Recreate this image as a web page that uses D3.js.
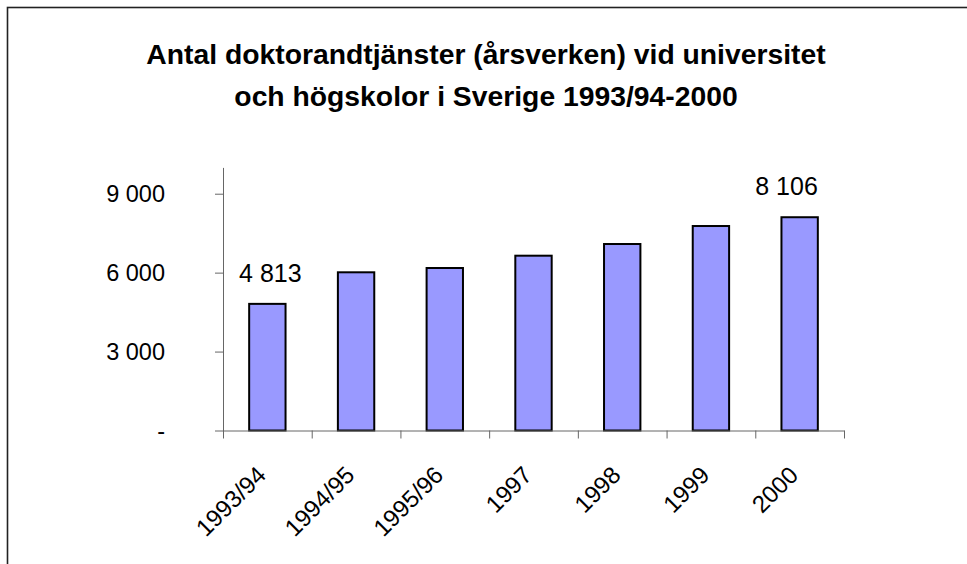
<!DOCTYPE html>
<html lang="sv">
<head>
  <meta charset="UTF-8">
  <script src="https://d3js.org/d3.v7.min.js"></script>
  <style>
    body { margin: 0; background: #fff; }
    text { font-family: Arial, "Liberation Sans", sans-serif; }
  </style>
</head>
<body>
  <script>
    // data
    var years = ['1993/94', '1994/95', '1995/96', '1997', '1998', '1999', '2000'];
    var values = [4813, 6013, 6176, 6644, 7088, 7772, 8106];
    var yTicks = [0, 3000, 6000, 9000];
    var labelled = ['1993/94', '2000'];

    var W = 967, H = 564;
    var plotLeft = 223, plotRight = 844, plotBase = 430.5, plotTop = 167.4;

    var svg = d3.select('body')
      .append('svg')
      .attr('width', W)
      .attr('height', H);

    // chart frame (runs off the right and bottom)
    svg.append('rect')
      .attr('x', 7.5).attr('y', 7.5)
      .attr('width', W + 20).attr('height', H + 20)
      .attr('fill', 'none')
      .attr('stroke', '#222')
      .attr('stroke-width', 1.6);

    // title
    var title = svg.append('text')
      .attr('text-anchor', 'middle')
      .attr('font-weight', 'bold')
      .attr('font-size', 28.3)
      .attr('fill', '#000');
    title.append('tspan').attr('x', 486).attr('y', 64).text('Antal doktorandtjänster (årsverken) vid universitet');
    title.append('tspan').attr('x', 486).attr('y', 106).text('och högskolor i Sverige 1993/94-2000');

    var x = d3.scaleBand()
      .domain(years)
      .range([plotLeft, plotRight])
      .padding(0);

    var y = d3.scaleLinear()
      .domain([0, 10000])
      .range([plotBase, plotTop]);

    var fmt = function(v) {
      if (v === 0) return '-';
      return d3.format(',')(v).replace(/,/g, ' ');
    };

    // bars
    var bw = x.bandwidth() * 0.41;
    svg.append('g')
      .selectAll('rect')
      .data(values)
      .enter().append('rect')
        .attr('x', function(d, i) { return x(years[i]) + (x.bandwidth() - bw) / 2; })
        .attr('y', function(d) { return y(d); })
        .attr('width', bw)
        .attr('height', function(d) { return y(0) - y(d); })
        .attr('fill', '#9999ff')
        .attr('stroke', '#000')
        .attr('stroke-width', 2);

    // y axis
    var yAxis = svg.append('g')
      .attr('transform', 'translate(' + plotLeft + ',0)')
      .call(d3.axisLeft(y)
        .tickValues(yTicks)
        .tickFormat(fmt)
        .tickSize(8)
        .tickSizeOuter(0)
        .tickPadding(50));
    yAxis.selectAll('text')
      .attr('font-size', 23.5)
      .attr('fill', '#000')
      .attr('font-family', 'Arial, "Liberation Sans", sans-serif');
    yAxis.selectAll('path, line').attr('stroke', '#666');

    // x axis with ticks at band edges
    var xe = d3.scaleLinear().domain([0, years.length]).range([plotLeft, plotRight]);
    var xAxis = svg.append('g')
      .attr('transform', 'translate(0,' + plotBase + ')')
      .call(d3.axisBottom(xe)
        .tickValues(d3.range(years.length + 1))
        .tickFormat('')
        .tickSize(8)
        .tickSizeOuter(0));
    xAxis.selectAll('path, line').attr('stroke', '#666');

    // rotated category labels
    svg.append('g')
      .selectAll('text')
      .data(years)
      .enter().append('text')
        .attr('transform', function(d) {
          return 'translate(' + (x(d) + x.bandwidth() / 2) + ',' + (plotBase + 46) + ') rotate(-45)';
        })
        .attr('text-anchor', 'end')
        .attr('font-size', 24)
        .attr('fill', '#000')
        .text(function(d) { return d; });

    // value labels on first and last bar (last one kept inside the plot)
    var lab = years.filter(function(d) { return labelled.indexOf(d) !== -1; });
    svg.append('g')
      .selectAll('text')
      .data(lab)
      .enter().append('text')
        .attr('x', function(d, i) {
          var c = x(d) + x.bandwidth() / 2;
          return i === lab.length - 1 ? c + bw / 2 : c + 3;
        })
        .attr('y', function(d) { return y(values[years.indexOf(d)]) - 22; })
        .attr('text-anchor', function(d, i) { return i === lab.length - 1 ? 'end' : 'middle'; })
        .attr('font-size', 25)
        .attr('fill', '#000')
        .text(function(d) { return fmt(values[years.indexOf(d)]); });
  </script>
</body>
</html>
